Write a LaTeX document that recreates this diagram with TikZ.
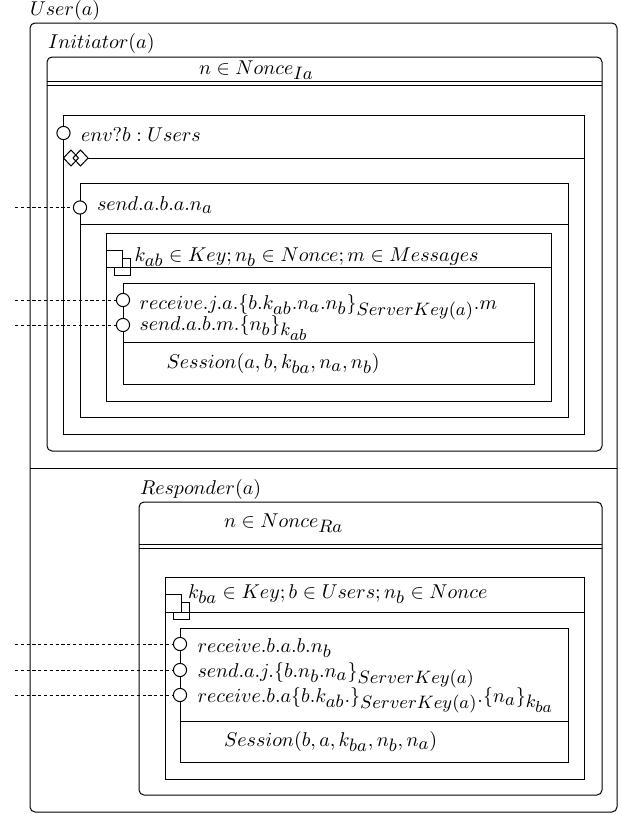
\documentclass[tikz,border=0pt]{standalone}
% larger sub- and sub-subscripts, as in the typeset process terms
\DeclareMathSizes{10}{10}{9}{8}
\begin{document}
\begin{tikzpicture}[x=0.5pt,y=-0.5pt,
  frame/.style={line width=0.5pt},
  rframe/.style={line width=0.5pt,rounded corners=2.5pt},
  lbl/.style={anchor=base west,inner sep=0pt,outer sep=0pt},
  port/.style={circle,draw,fill=white,line width=0.5pt,minimum size=6.6pt,inner sep=0pt},
  wire/.style={line width=0.5pt,dash pattern=on 1.6pt off 1.3pt},
  sq/.style={line width=0.5pt,fill=white},
]
\useasboundingbox (0,0) rectangle (621,814);

% ---- outer process User(a) ----
\draw[rframe] (30,23) rectangle (617,812);
\draw[frame] (30,468) -- (617,468);

% ---- Initiator(a) ----
\draw[rframe] (47,57) rectangle (602,451);
\draw[frame] (47,81.5) -- (602,81.5);
\draw[frame] (47,85.5) -- (602,85.5);

% environment input block
\draw[frame] (63.5,115) rectangle (584,434);
\draw[frame] (88,158) -- (584,158);
\draw[frame] (63.5,158) -- (71,150) -- (78.5,158) -- (71,166) -- cycle;
\draw[frame] (73,158) -- (80.5,150) -- (88,158) -- (80.5,166) -- cycle;

% send block
\draw[frame] (80,183) rectangle (568,417);
\draw[frame] (80,224) -- (568,224);

% fresh declarations block
\draw[frame] (106,233) rectangle (551,401);
\draw[sq] (114,258.5) rectangle (130.5,275);
\draw[sq] (106,250) rectangle (122,267);
\draw[frame] (106,267) -- (551,267);

% receive / send block
\draw[frame] (123,283) rectangle (534,384);
\draw[frame] (123,342) -- (534,342);

% ---- Responder(a) ----
\draw[rframe] (139,502) rectangle (602,795);
\draw[frame] (139,544) -- (602,544);
\draw[frame] (139,548) -- (602,548);

\draw[frame] (165,577) rectangle (584,779);
\draw[sq] (173,602.5) rectangle (189.5,619);
\draw[sq] (165,594.5) rectangle (181.5,612);
\draw[frame] (165,612) -- (584,612);

\draw[frame] (180,628) rectangle (568,762);
\draw[frame] (180,721) -- (568,721);

% ---- ports ----
\node[port] (penv) at (63.5,133) {};
\node[port] (psa) at (80,207.5) {};
\node[port] (pra) at (123,300) {};
\node[port] (psb) at (123,325) {};
\node[port] (prb) at (180,644) {};
\node[port] (psc) at (180,670) {};
\node[port] (prc) at (180,695) {};

% ---- channel links ----
\coordinate (lsa) at (15,207.5);
\coordinate (lra) at (15,300);
\coordinate (lsb) at (15,325);
\coordinate (lrb) at (15,644);
\coordinate (lsc) at (15,670);
\coordinate (lrc) at (15,695);
\draw[wire] (lsa) -- (psa);
\draw[wire] (lra) -- (pra);
\draw[wire] (lsb) -- (psb);
\draw[wire] (lrb) -- (prb);
\draw[wire] (lsc) -- (psc);
\draw[wire] (lrc) -- (prc);

% ---- labels ----
\node[lbl] (tuser) at (30,15) {$User(a)$};
\node[lbl] (tinit) at (48,48) {$Initiator(a)$};
\node[lbl] (tnia) at (199,74) {$n \in Nonce_{Ia}$};
\node[lbl] (tenv) at (81,141.5) {$env?b : Users$};
\node[lbl] (tsa) at (97,210) {$send.a.b.a.n_a$};
\node[lbl] (tdeca) at (134.5,261) {$k_{ab} \in Key; n_b \in Nonce; m \in Messages$};
\node[lbl] (tra) at (139.5,309) {$receive.j.a.\{b.k_{ab}.n_a.n_b\}_{ServerKey(a)}.m$};
\node[lbl] (tsb) at (139.5,330) {$send.a.b.m.\{n_b\}_{k_{ab}}$};
\node[lbl] (tsesa) at (166.5,368) {$Session(a, b, k_{ba}, n_a, n_b)$};

\node[lbl] (tresp) at (140,494) {$Responder(a)$};
\node[lbl] (tnra) at (224,527) {$n \in Nonce_{Ra}$};
\node[lbl] (tdecb) at (188,598) {$k_{ba} \in Key; b \in Users; n_b \in Nonce$};
\node[lbl] (trb) at (197.5,652) {$receive.b.a.b.n_b$};
\node[lbl] (tsc) at (197.5,677) {$send.a.j.\{b.n_b.n_a\}_{ServerKey(a)}$};
\node[lbl] (trc) at (197.5,702) {$receive.b.a\{b.k_{ab}.\}_{ServerKey(a)}.\{n_a\}_{k_{ba}}$};
\node[lbl] (tsesb) at (224,746) {$Session(b, a, k_{ba}, n_b, n_a)$};
\end{tikzpicture}
\end{document}
